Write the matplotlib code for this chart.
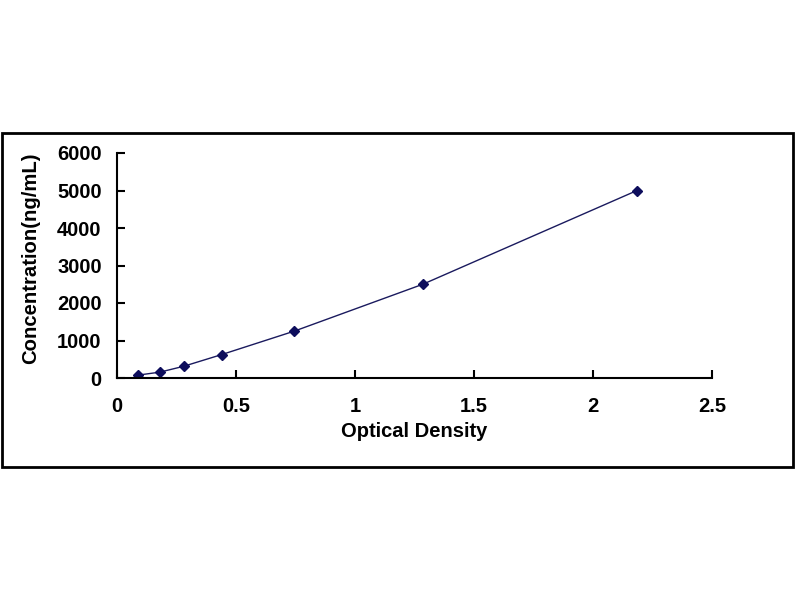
import matplotlib.pyplot as plt
from matplotlib.patches import Rectangle

# standard curve readings
od = [0.09, 0.18, 0.28, 0.44, 0.745, 1.285, 2.185]
conc = [78, 156, 312, 625, 1250, 2500, 5000]

xticks = [0, 0.5, 1, 1.5, 2, 2.5]
yticks = [0, 1000, 2000, 3000, 4000, 5000, 6000]


def main():
    plt.rcParams['font.family'] = ['Liberation Sans', 'DejaVu Sans']
    plt.rcParams['font.weight'] = 'bold'
    fig = plt.figure(figsize=(8, 6), dpi=100)

    # outer chart frame
    fig.patches.append(Rectangle((2 / 800, 133 / 600), 791 / 800, 334 / 600,
                                 transform=fig.transFigure, fill=False,
                                 edgecolor='black', linewidth=2))

    ax = fig.add_axes([117 / 800, 222 / 600, 595 / 800, 225 / 600])
    ax.plot(od, conc, '-', color='#1a1a5e', linewidth=1)
    ax.plot(od, conc, 'D', color='#0d0d5c', markersize=5.5)

    ax.set_xlim(0, 2.5)
    ax.set_ylim(0, 6000)
    ax.set_xticks(xticks)
    ax.set_xticklabels([f"{v:g}" for v in xticks])
    ax.set_yticks(yticks)

    for s in ['top', 'right']:
        ax.spines[s].set_visible(False)
    for s in ['left', 'bottom']:
        ax.spines[s].set_linewidth(1.5)

    ax.tick_params(axis='both', direction='in', length=6, width=1.5, labelsize=14.5)
    ax.tick_params(axis='x', pad=14)
    ax.tick_params(axis='y', pad=11)

    ax.set_xlabel("Optical Density", fontsize=14.5, fontweight='bold', labelpad=4)
    ax.set_ylabel("Concentration(ng/mL)", fontsize=14.6, fontweight='bold', labelpad=12)
    ax.yaxis.label.set_y(0.53)

    plt.savefig("out.png", dpi=100)
    plt.close(fig)


if __name__ == "__main__":
    main()
